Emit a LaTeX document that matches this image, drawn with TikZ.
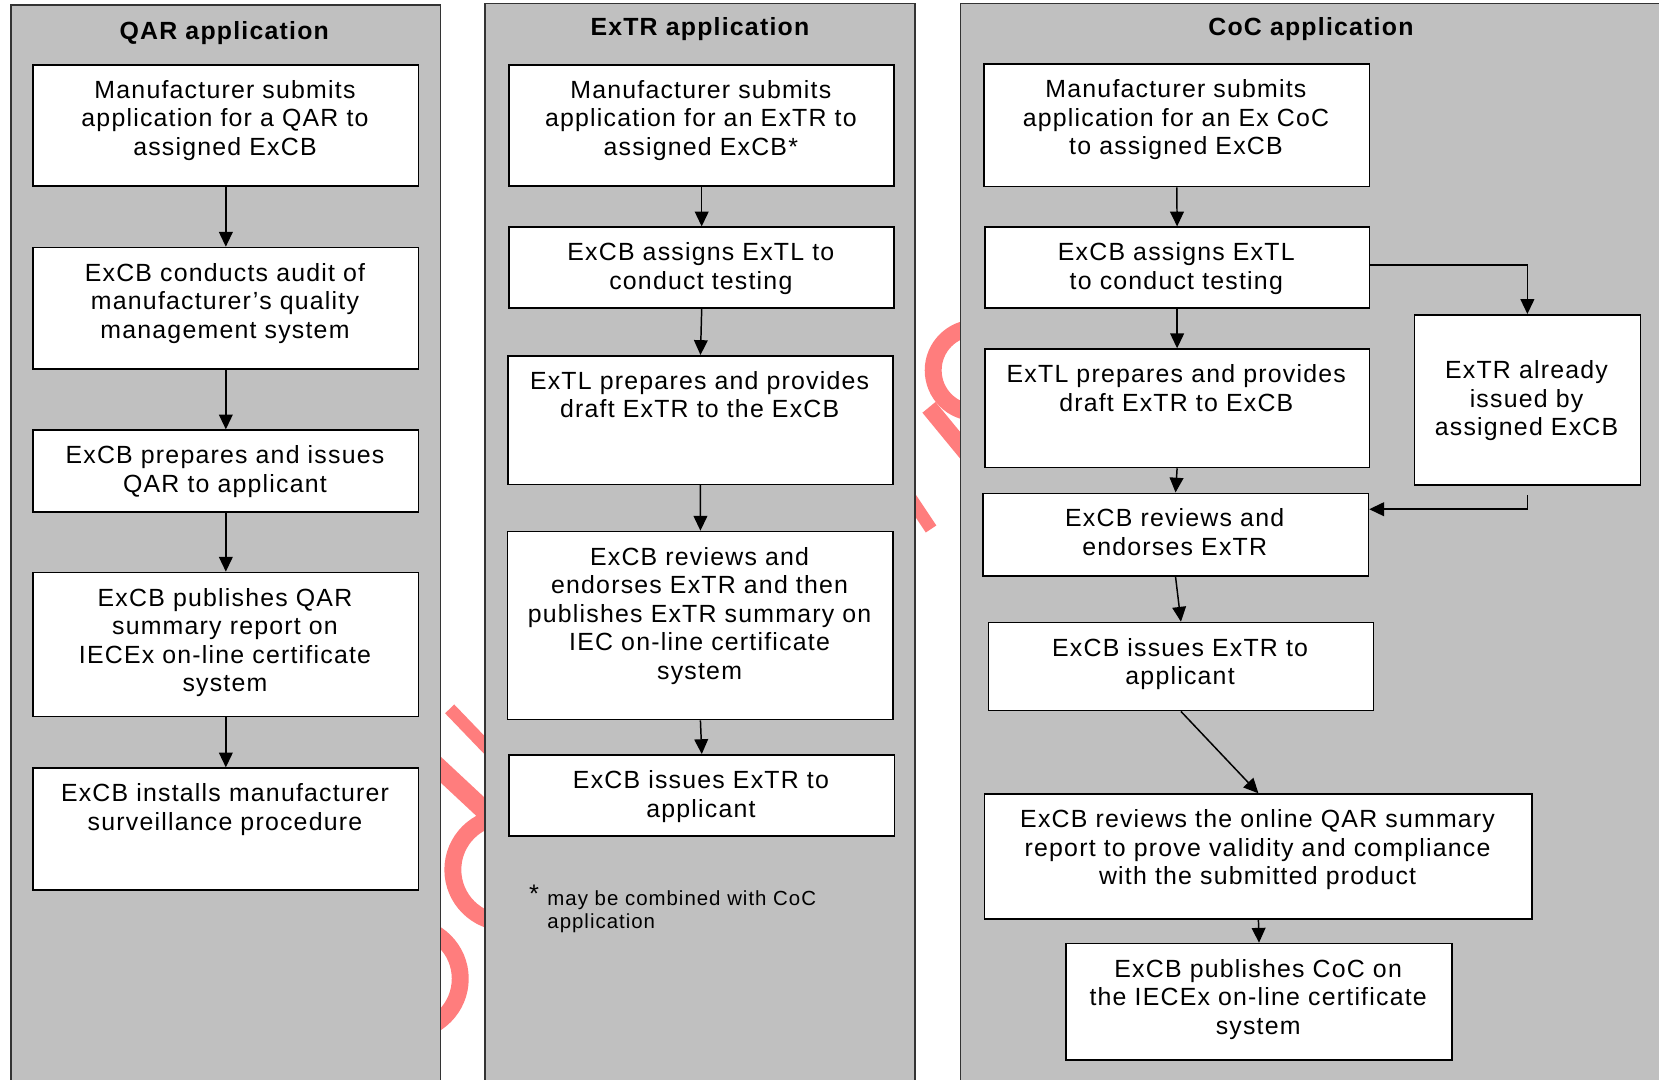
\documentclass[tikz,border=0pt]{standalone}
\usepackage{fontspec}
\setmainfont{Liberation Sans}[LetterSpace=4.9]
\usetikzlibrary{arrows.meta}
\definecolor{panelgray}{RGB}{192,192,192}
\definecolor{wmred}{RGB}{255,125,125}
\newcommand\bodyfont{\fontsize{11.75pt}{13.5pt}\selectfont}
\newcommand\notefont{\fontsize{9.65pt}{11pt}\selectfont}
\tikzset{
  flowbox/.style={draw=black, line width=0.8pt, fill=white, inner sep=0pt},
  boxtext/.style={inner sep=0pt, anchor=base, font=\bodyfont},
  paneltitle/.style={inner sep=0pt, anchor=base, font=\bodyfont\bfseries},
  notetext/.style={inner sep=0pt, font=\notefont},
  arr/.style={line width=0.7pt, -{Triangle[length=7pt,width=6.5pt]}},
  panel/.style={fill=panelgray, draw=black!80, line width=0.6pt},
  wm/.style={draw=wmred, line cap=butt},
}
\newcommand\mkbox[7]{%
  \node[flowbox, anchor=north west, minimum width={(#4-#2)*0.5pt}, minimum height={(#5-#3)*0.5pt}] (#1) at (#2,#3) {};
  \node[boxtext] (#1t) at ({(#2+#4)/2},{#3+#6}) {\parbox[t]{260pt}{\centering #7}};
}
\begin{document}
\begin{tikzpicture}[x=0.5pt,y=-0.5pt]
\useasboundingbox (0,0) rectangle (1568,1020);
\clip (0,0) rectangle (1568,1020);
% watermark fragments
\draw[wm, line width=6pt] (425,670) -- (475,722);
\draw[wm, line width=9pt] (400,712) -- (475,782);
\draw[wm, line width=8pt] (478,822) circle[radius=50];
\draw[wm, line width=8pt] (385,925) circle[radius=50];
\draw[wm, line width=8pt] (922,350) circle[radius=40];
\draw[wm, line width=8pt] (878,385) -- (915,430);
\draw[wm, line width=6pt] (860,470) -- (880,500);
% panels
\path[panel] (10.4,1040) -- (10.4,4.7) -- (416.5,4.7) -- (416.5,1040);
\path[panel] (458.4,1040) -- (458.4,3.2) -- (864.8,3.2) -- (864.8,1040);
\path[panel] (907.8,1040) -- (907.8,3.2) -- (1600,3.2) -- (1600,1040);
\node[paneltitle] (t1) at (212,37.8) {QAR application};
\node[paneltitle] (t2) at (661.5,33.7) {ExTR application};
\node[paneltitle] (t3) at (1239,33.5) {CoC application};
% QAR column
\mkbox{q1}{30.5}{60.5}{394.8}{175}{32.5}{Manufacturer submits\\application for a QAR to\\assigned ExCB}
\mkbox{q2}{30.5}{233.2}{394.8}{348.1}{32.5}{ExCB conducts audit of\\manufacturer’s quality\\management system}
\mkbox{q3}{30.5}{405.8}{394.8}{483}{32.5}{ExCB prepares and issues\\QAR to applicant}
\mkbox{q4}{30.5}{540.3}{394.8}{676.4}{32.5}{ExCB publishes QAR\\summary report on\\IECEx on-line certificate\\system}
\mkbox{q5}{30.5}{725.3}{394.8}{840.3}{32.5}{ExCB installs manufacturer\\surveillance procedure}
% ExTR column
\mkbox{e1}{480.5}{60.5}{844.3}{175.2}{32.5}{Manufacturer submits\\application for an ExTR to\\assigned ExCB*}
\mkbox{e2}{480.5}{214}{844.3}{290.5}{32.5}{ExCB assigns ExTL to\\conduct testing}
\mkbox{e3}{479.2}{335.5}{843.3}{457}{32.5}{ExTL prepares and provides\\draft ExTR to the ExCB}
\mkbox{e4}{479}{501.6}{843.4}{679.3}{32.5}{ExCB reviews and\\endorses ExTR and then\\publishes ExTR summary on\\IEC on-line certificate\\system}
\mkbox{e5}{480.4}{712.7}{844.6}{789.5}{32.5}{ExCB issues ExTR to\\applicant}
\node[notetext, anchor=base west] (note) at (517,855.4) {\parbox[t]{200pt}{\raggedright\leavevmode\llap{\raisebox{1pt}{\large*}\hspace{4pt}}may be combined with CoC\\application}};
% CoC column
\mkbox{d1}{929.4}{60}{1293.5}{175.5}{32.5}{Manufacturer submits\\application for an Ex CoC\\to assigned ExCB}
\mkbox{d2}{930}{214}{1293.5}{290.5}{32.5}{ExCB assigns ExTL\\to conduct testing}
\mkbox{d3}{930}{329.2}{1293.5}{441}{32.5}{ExTL prepares and provides\\draft ExTR to ExCB}
\mkbox{d4}{1336}{296.8}{1549.6}{457.5}{61}{ExTR already\\issued by\\assigned ExCB}
\mkbox{d5}{928}{465.5}{1292.5}{543.5}{32.5}{ExCB reviews and\\endorses ExTR}
\mkbox{d6}{933.5}{587.6}{1297.2}{670.8}{32.5}{ExCB issues ExTR to\\applicant}
\mkbox{d7}{929.8}{749.8}{1447.4}{868}{32.5}{ExCB reviews the online QAR summary\\report to prove validity and compliance\\with the submitted product}
\mkbox{d8}{1006.8}{891}{1371.5}{1001}{32.5}{ExCB publishes CoC on\\the IECEx on-line certificate\\system}
% connectors
\draw[arr] (q1.south) -- (q2.north);
\draw[arr] (q2.south) -- (q3.north);
\draw[arr] (q3.south) -- (q4.north);
\draw[arr] (q4.south) -- (q5.north);
\draw[arr] (e1.south) -- (e2.north);
\draw[arr] (e2.south) -- (e3.north);
\draw[arr] (e3.south) -- (e4.north);
\draw[arr] (e4.south) -- (e5.north);
\draw[arr] (d1.south) -- (d2.north);
\draw[arr] ([yshift=1.4pt]d2.east) -| (d4.north);
\draw[arr] (d2.south) -- (d3.north);
\draw[arr] (d3.south) -- (d5.north);
\draw[arr] ([yshift=-4.4pt]d4.south) |- ([yshift=12pt]d5.east);
\draw[arr] (d5.south) -- (d6.north);
\draw[arr] (d6.south) -- (d7.north);
\draw[arr] (d7.south) -- (d8.north);
\end{tikzpicture}
\end{document}
